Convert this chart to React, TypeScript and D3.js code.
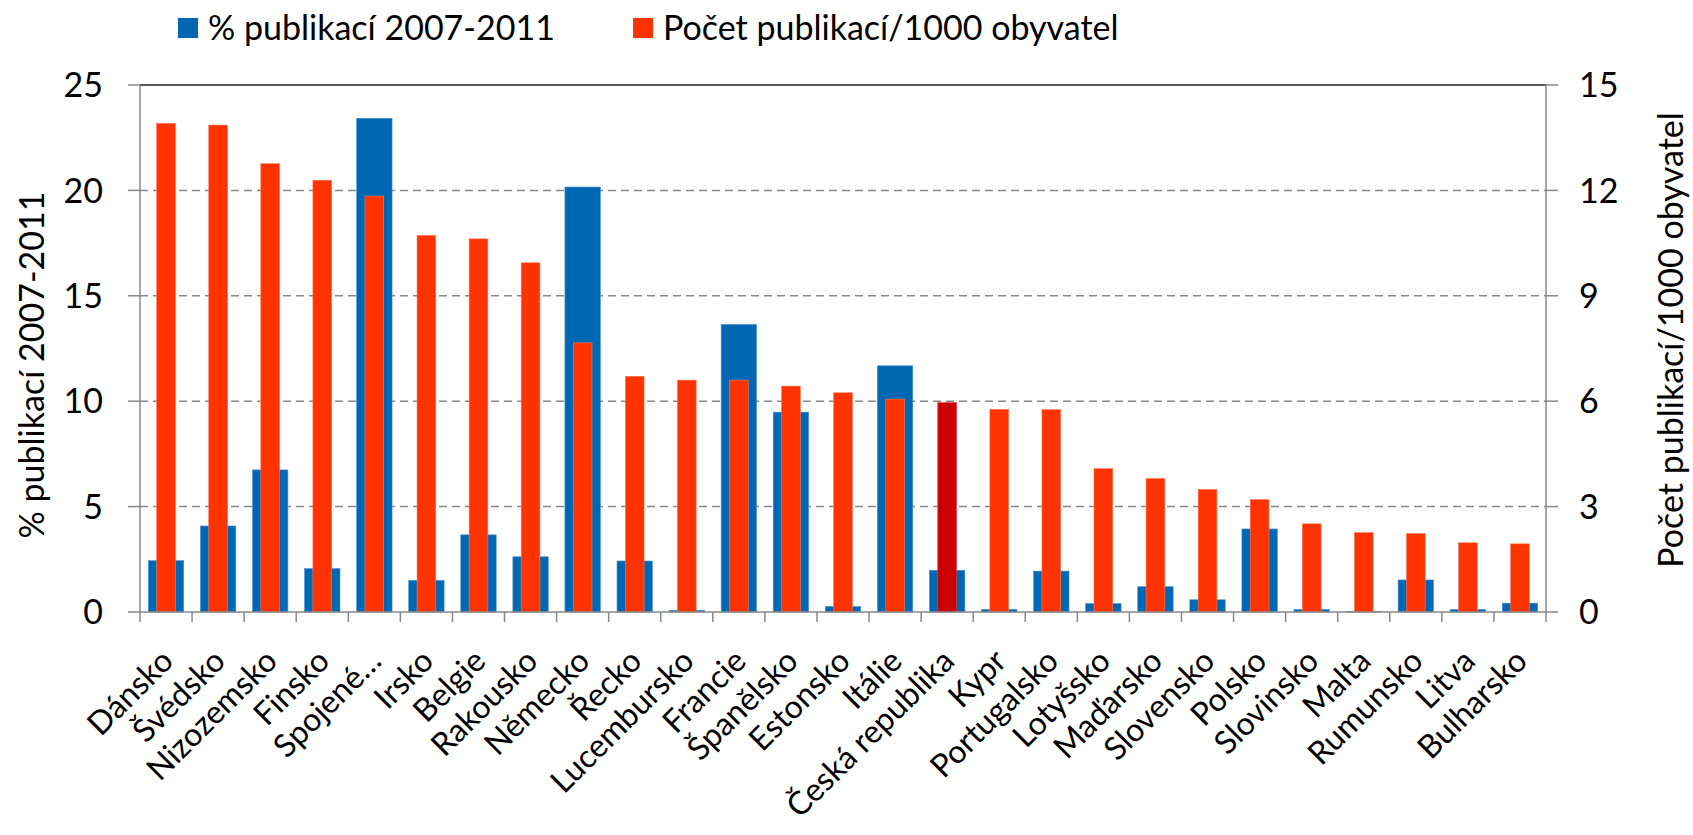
import React from 'react';
import * as d3 from 'd3';

const countries = [
  'Dánsko', 'Švédsko', 'Nizozemsko', 'Finsko', 'Spojené…', 'Irsko', 'Belgie', 'Rakousko',
  'Německo', 'Řecko', 'Lucembursko', 'Francie', 'Španělsko', 'Estonsko', 'Itálie',
  'Česká republika', 'Kypr', 'Portugalsko', 'Lotyšsko', 'Maďarsko', 'Slovensko', 'Polsko',
  'Slovinsko', 'Malta', 'Rumunsko', 'Litva', 'Bulharsko',
];
const pctPublications = [
  2.44, 4.08, 6.74, 2.06, 23.42, 1.5, 3.66, 2.62, 20.16, 2.42, 0.08, 13.64, 9.48, 0.26, 11.68,
  1.98, 0.12, 1.94, 0.4, 1.2, 0.58, 3.94, 0.12, 0.02, 1.52, 0.12, 0.42,
];
const perThousand = [
  13.91, 13.86, 12.76, 12.29, 11.84, 10.72, 10.62, 9.94, 7.66, 6.71, 6.6, 6.6, 6.43, 6.24, 6.06,
  5.96, 5.77, 5.76, 4.08, 3.8, 3.49, 3.2, 2.51, 2.26, 2.23, 1.97, 1.94,
];
const leftTicks = [0, 5, 10, 15, 20, 25];
const rightTicks = [0, 3, 6, 9, 12, 15];
const seriesNames = ['% publikací 2007-2011', 'Počet publikací/1000 obyvatel'];
const highlightCountry = 'Česká republika';

const BLUE = '#0067B3';
const RED = '#FF3300';
const DARK_RED = '#CC0000';
const FONT = 'Lato, "Open Sans", sans-serif';

export default function App() {
  const W = 1693;
  const H = 835;
  const left = 140;
  const right = 1546;
  const top = 85;
  const bottom = 612;

  const x = d3.scaleBand<string>().domain(countries).range([left, right]).padding(0);
  const bw = x.bandwidth();
  const yL = d3.scaleLinear().domain([0, 25]).range([bottom, top]);
  const yR = d3.scaleLinear().domain([0, 15]).range([bottom, top]);
  const blueW = bw * 0.68;
  const redW = bw * 0.36;
  const fs = 34;
  const labelFs = 32;

  return (
    <div style={{ position: 'absolute', left: 0, top: 0 }}>
      <svg width={W} height={H} style={{ display: 'block', background: '#fff' }} fontFamily={FONT}>
        {/* gridlines */}
        {leftTicks.filter(t => t > 0 && t < 25).map(t => (
          <line key={'g' + t} x1={left} x2={right} y1={yL(t)} y2={yL(t)}
            stroke="#888" strokeWidth={1.5} strokeDasharray="8,5" />
        ))}
        <line x1={left} x2={right} y1={yL(25)} y2={yL(25)} stroke="#222" strokeWidth={1.5} />

        {/* blue bars */}
        {countries.map((c, i) => {
          const v = pctPublications[i];
          const x0 = (x(c) as number) + (bw - blueW) / 2;
          return (
            <rect key={'b' + c} x={x0} y={yL(v)} width={blueW} height={bottom - yL(v)}
              fill={BLUE} stroke="#4a90d0" strokeWidth={0.6} />
          );
        })}
        {/* red bars */}
        {countries.map((c, i) => {
          const v = perThousand[i];
          const x0 = (x(c) as number) + (bw - redW) / 2;
          const col = c === highlightCountry ? DARK_RED : RED;
          return (
            <rect key={'r' + c} x={x0} y={yR(v)} width={redW} height={bottom - yR(v)}
              fill={col} stroke={c === highlightCountry ? '#d84040' : '#ff7a5a'} strokeWidth={0.6} />
          );
        })}

        {/* axes */}
        <line x1={left} x2={left} y1={top} y2={bottom + 10} stroke="#888" strokeWidth={1.5} />
        <line x1={right} x2={right} y1={top} y2={bottom + 10} stroke="#888" strokeWidth={1.5} />
        <line x1={left} x2={right} y1={bottom} y2={bottom} stroke="#888" strokeWidth={1.5} />
        {leftTicks.map(t => (
          <g key={'lt' + t}>
            <line x1={left - 12} x2={left} y1={yL(t)} y2={yL(t)} stroke="#888" strokeWidth={1.5} />
            <text x={left - 37} y={yL(t)} dy="0.36em" textAnchor="end" fontSize={fs} fill="#000">{t}</text>
          </g>
        ))}
        {rightTicks.map(t => (
          <g key={'rt' + t}>
            <line x1={right} x2={right + 12} y1={yR(t)} y2={yR(t)} stroke="#888" strokeWidth={1.5} />
            <text x={right + 33} y={yR(t)} dy="0.36em" textAnchor="start" fontSize={fs} fill="#000">{t}</text>
          </g>
        ))}
        {countries.map((c, i) => (
          i > 0 ? <line key={'xt' + c} x1={x(c)} x2={x(c)} y1={bottom} y2={bottom + 10} stroke="#888" strokeWidth={1.5} /> : null
        ))}
        {countries.map(c => {
          const cx = (x(c) as number) + bw / 2 + 9;
          const cy = bottom + 51;
          return (
            <text key={'xl' + c} transform={`translate(${cx},${cy}) rotate(-45)`} textAnchor="end"
              fontSize={labelFs} fill="#000">{c}</text>
          );
        })}

        {/* axis titles */}
        <text transform={`translate(44,365) rotate(-90)`} textAnchor="middle"
          fontSize={fs} fill="#000">{seriesNames[0]}</text>
        <text transform={`translate(1683,340) rotate(-90)`} textAnchor="middle"
          fontSize={fs} fill="#000">{seriesNames[1]}</text>

        {/* legend */}
        <rect x={178} y={18} width={20} height={20} fill={BLUE} />
        <text x={208} y={28} dy="0.36em" fontSize={fs} fill="#000">{seriesNames[0]}</text>
        <rect x={633} y={18} width={20} height={20} fill={RED} />
        <text x={663} y={28} dy="0.36em" fontSize={fs} fill="#000">{seriesNames[1]}</text>
      </svg>
    </div>
  );
}
